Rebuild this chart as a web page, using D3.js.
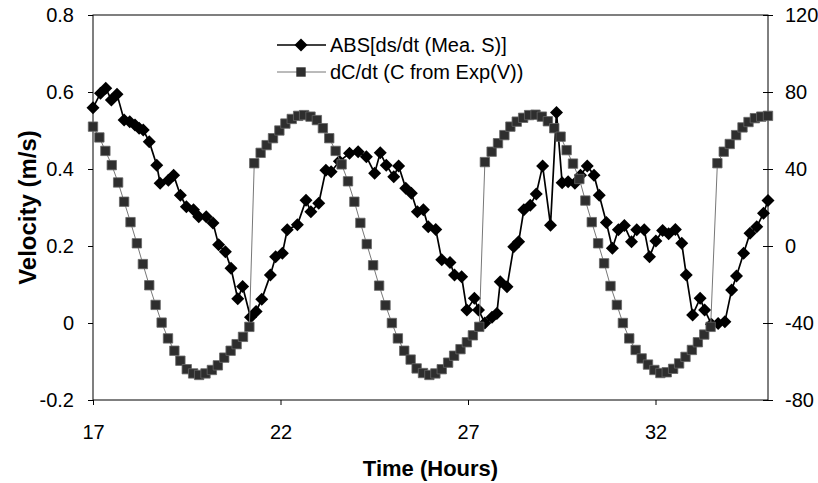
<!DOCTYPE html>
<html>
<head>
<meta charset="utf-8">
<script src="https://cdn.jsdelivr.net/npm/d3@7"></script>
<style>
  body { margin: 0; background: #fff; }
  svg text { font-family: "Liberation Sans", Arial, sans-serif; fill: #000; }
</style>
</head>
<body>
<div id="chart"></div>
<script>
// ABS[ds/dt (Mea. S)] -- velocity, left axis (m/s)
const measTime = [17.00, 17.20, 17.34, 17.49, 17.64, 17.83, 17.98, 18.12, 18.23, 18.34,
  18.50, 18.70, 18.79, 19.01, 19.15, 19.33, 19.49, 19.68, 19.82, 20.02,
  20.20, 20.35, 20.53, 20.68, 20.86, 20.99, 21.20, 21.35, 21.50, 21.73,
  21.87, 22.05, 22.18, 22.45, 22.68, 22.81, 23.02, 23.21, 23.35, 23.57,
  23.84, 24.07, 24.29, 24.51, 24.66, 24.82, 25.02, 25.15, 25.34, 25.49,
  25.65, 25.81, 25.94, 26.14, 26.30, 26.52, 26.64, 26.83, 26.97, 27.17,
  27.28, 27.45, 27.64, 27.77, 27.86, 28.04, 28.22, 28.35, 28.49, 28.66,
  28.82, 28.99, 29.20, 29.36, 29.51, 29.67, 29.85, 30.00, 30.18, 30.36,
  30.50, 30.69, 30.85, 31.01, 31.17, 31.36, 31.50, 31.70, 31.84, 32.01,
  32.19, 32.35, 32.53, 32.70, 32.82, 32.99, 33.19, 33.31, 33.49, 33.67,
  33.85, 34.03, 34.16, 34.35, 34.52, 34.70, 34.88, 35.00];
const measVel = [0.559, 0.597, 0.610, 0.579, 0.594, 0.527, 0.523, 0.514, 0.506, 0.501,
  0.471, 0.410, 0.363, 0.371, 0.384, 0.332, 0.302, 0.294, 0.276, 0.276,
  0.260, 0.203, 0.185, 0.142, 0.063, 0.095, 0.015, 0.030, 0.062, 0.125,
  0.172, 0.181, 0.242, 0.255, 0.319, 0.289, 0.311, 0.397, 0.393, 0.420,
  0.441, 0.445, 0.432, 0.389, 0.442, 0.410, 0.380, 0.408, 0.350, 0.337,
  0.289, 0.294, 0.250, 0.243, 0.164, 0.157, 0.125, 0.120, 0.034, 0.064,
  0.034, 0.000, 0.015, 0.025, 0.107, 0.094, 0.198, 0.211, 0.294, 0.306,
  0.335, 0.408, 0.254, 0.547, 0.364, 0.367, 0.363, 0.384, 0.408, 0.384,
  0.332, 0.261, 0.194, 0.242, 0.253, 0.211, 0.242, 0.242, 0.172, 0.213,
  0.240, 0.232, 0.243, 0.207, 0.125, 0.021, 0.064, 0.034, -0.003, -0.001,
  0.003, 0.086, 0.122, 0.181, 0.233, 0.250, 0.285, 0.318];

// dC/dt (C from Exp(V)) -- right axis
const expTime = [17.00, 17.17, 17.33, 17.50, 17.67, 17.83, 18.00, 18.17, 18.33, 18.50,
  18.67, 18.83, 19.00, 19.17, 19.33, 19.50, 19.67, 19.83, 20.00, 20.17,
  20.33, 20.50, 20.67, 20.83, 21.00, 21.17, 21.30, 21.47, 21.63, 21.80,
  21.97, 22.13, 22.30, 22.47, 22.63, 22.80, 22.97, 23.13, 23.30, 23.47,
  23.63, 23.80, 23.97, 24.13, 24.30, 24.47, 24.63, 24.80, 24.97, 25.13,
  25.30, 25.47, 25.63, 25.80, 25.97, 26.13, 26.30, 26.47, 26.63, 26.80,
  26.97, 27.13, 27.30, 27.45, 27.63, 27.80, 27.97, 28.13, 28.30, 28.47,
  28.63, 28.80, 28.97, 29.13, 29.30, 29.47, 29.63, 29.80, 29.97, 30.13,
  30.30, 30.47, 30.63, 30.80, 30.97, 31.13, 31.30, 31.47, 31.63, 31.80,
  31.97, 32.13, 32.30, 32.47, 32.63, 32.80, 32.97, 33.13, 33.30, 33.47,
  33.65, 33.82, 33.98, 34.15, 34.32, 34.48, 34.65, 34.82, 35.00];
const expRate = [62, 56.4, 49.4, 42, 33, 23, 12.4, 1.4, -9.4, -20.4,
  -30.6, -39.8, -48, -54.4, -59.6, -64, -66.2, -67, -66.2, -64.4,
  -62, -58, -54.4, -51, -47.2, -42, 43, 48.4, 52.4, 56,
  60, 63.6, 66, 67.6, 68, 67.2, 65.4, 61.2, 56, 49.4,
  42.4, 33.6, 23, 12, 1, -10, -20.6, -30.8, -40, -48,
  -54.4, -59, -63.6, -66, -67, -66.2, -64, -60.6, -57, -53.6,
  -50, -46.4, -42, 43.6, 49, 53.4, 57.6, 62, 64.6, 66.6,
  68, 68.2, 67.2, 64.8, 61.2, 56.8, 49.8, 42.8, 34.8, 23.6,
  12.4, 1.4, -9, -20.8, -30.6, -40, -48, -54, -58.4, -61.6,
  -64.4, -66, -65.6, -63.8, -61, -57.6, -54, -50, -46, -42,
  43, 49, 53, 57.6, 61.6, 64.4, 66.4, 67.2, 67.6];

const xTicks = [17, 22, 27, 32];
const leftTicks = [-0.2, 0, 0.2, 0.4, 0.6, 0.8];
const rightTicks = [-80, -40, 0, 40, 80, 120];
const seriesNames = ["ABS[ds/dt (Mea. S)]", "dC/dt (C from Exp(V))"];

const W = 818, H = 483;
const plot = {left: 93, right: 768, top: 15, bottom: 400};

const svg = d3.select("#chart").append("svg")
  .attr("width", W).attr("height", H);

const x = d3.scaleLinear().domain([17, 35]).range([plot.left, plot.right]);
const yL = d3.scaleLinear().domain([-0.2, 0.8]).range([plot.bottom, plot.top]);
const yR = d3.scaleLinear().domain([-80, 120]).range([plot.bottom, plot.top]);

// frame
svg.append("rect")
  .attr("x", plot.left).attr("y", plot.top)
  .attr("width", plot.right - plot.left).attr("height", plot.bottom - plot.top)
  .attr("fill", "none").attr("stroke", "#000").attr("stroke-width", 1);

// plain hyphen for negatives, as in the original
const hy = s => s.replace("\u2212", "-");
const fmtL = d => d === 0 ? "0" : hy(d3.format(".1f")(d));
const fmtR = d => hy(d3.format("d")(d));

const axL = svg.append("g").attr("transform", `translate(${plot.left},0)`)
  .call(d3.axisLeft(yL).tickValues(leftTicks).tickFormat(fmtL).tickSize(5).tickPadding(14));
const axR = svg.append("g").attr("transform", `translate(${plot.right},0)`)
  .call(d3.axisRight(yR).tickValues(rightTicks).tickFormat(fmtR).tickSize(5).tickPadding(12));
const axB = svg.append("g").attr("transform", `translate(0,${plot.bottom})`)
  .call(d3.axisBottom(x).tickValues(xTicks).tickSize(5).tickPadding(22));

[axL, axR, axB].forEach(g => {
  g.select(".domain").remove();
  g.selectAll("text").attr("font-size", 20).style("font-family", '"Liberation Sans", Arial, sans-serif');
  g.selectAll("line").attr("stroke", "#000");
});
// right axis ticks cross the axis line
axR.selectAll(".tick line").attr("x1", -5);
axB.selectAll("text").attr("dy", "0.6em");

svg.append("text")
  .attr("transform", `translate(36,${(plot.top + plot.bottom) / 2}) rotate(-90)`)
  .attr("text-anchor", "middle").attr("font-size", 24).attr("font-weight", "bold")
  .text("Velocity (m/s)");

svg.append("text")
  .attr("x", (plot.left + plot.right) / 2).attr("y", 476)
  .attr("text-anchor", "middle").attr("font-size", 22).attr("font-weight", "bold")
  .text("Time (Hours)");

const meas = measTime.map((t, i) => [t, measVel[i]]);
const exp = expTime.map((t, i) => [t, expRate[i]]);

const diamond = "M0,-6.5L6.5,0L0,6.5L-6.5,0Z";
const square = "M-4.7,-4.7H4.7V4.7H-4.7Z";

// series 1: diamonds
svg.append("path").datum(meas)
  .attr("d", d3.line().x(d => x(d[0])).y(d => yL(d[1])))
  .attr("fill", "none").attr("stroke", "#000").attr("stroke-width", 1.7);
svg.append("g").selectAll("path").data(meas).join("path")
  .attr("transform", d => `translate(${x(d[0])},${yL(d[1])})`)
  .attr("d", diamond).attr("fill", "#000");

// series 2: squares on right axis
svg.append("path").datum(exp)
  .attr("d", d3.line().x(d => x(d[0])).y(d => yR(d[1])))
  .attr("fill", "none").attr("stroke", "#777").attr("stroke-width", 1);
svg.append("g").selectAll("path").data(exp).join("path")
  .attr("transform", d => `translate(${x(d[0])},${yR(d[1])})`)
  .attr("d", square).attr("fill", "#2e2e2e").attr("stroke", "#666").attr("stroke-width", 0.8);

// legend
const legend = svg.append("g").attr("transform", "translate(277,45)");
seriesNames.forEach((name, i) => {
  const g = legend.append("g").attr("transform", `translate(0,${i * 27})`);
  g.append("line").attr("x1", 0).attr("x2", 49).attr("y1", 0).attr("y2", 0)
    .attr("stroke", i === 0 ? "#000" : "#777").attr("stroke-width", i === 0 ? 1.7 : 1);
  g.append("path").attr("transform", "translate(24,0)")
    .attr("d", i === 0 ? diamond : square)
    .attr("fill", i === 0 ? "#000" : "#2e2e2e");
  g.append("text").attr("x", 53).attr("y", 7).attr("font-size", 20).text(name);
});
</script>
</body>
</html>
